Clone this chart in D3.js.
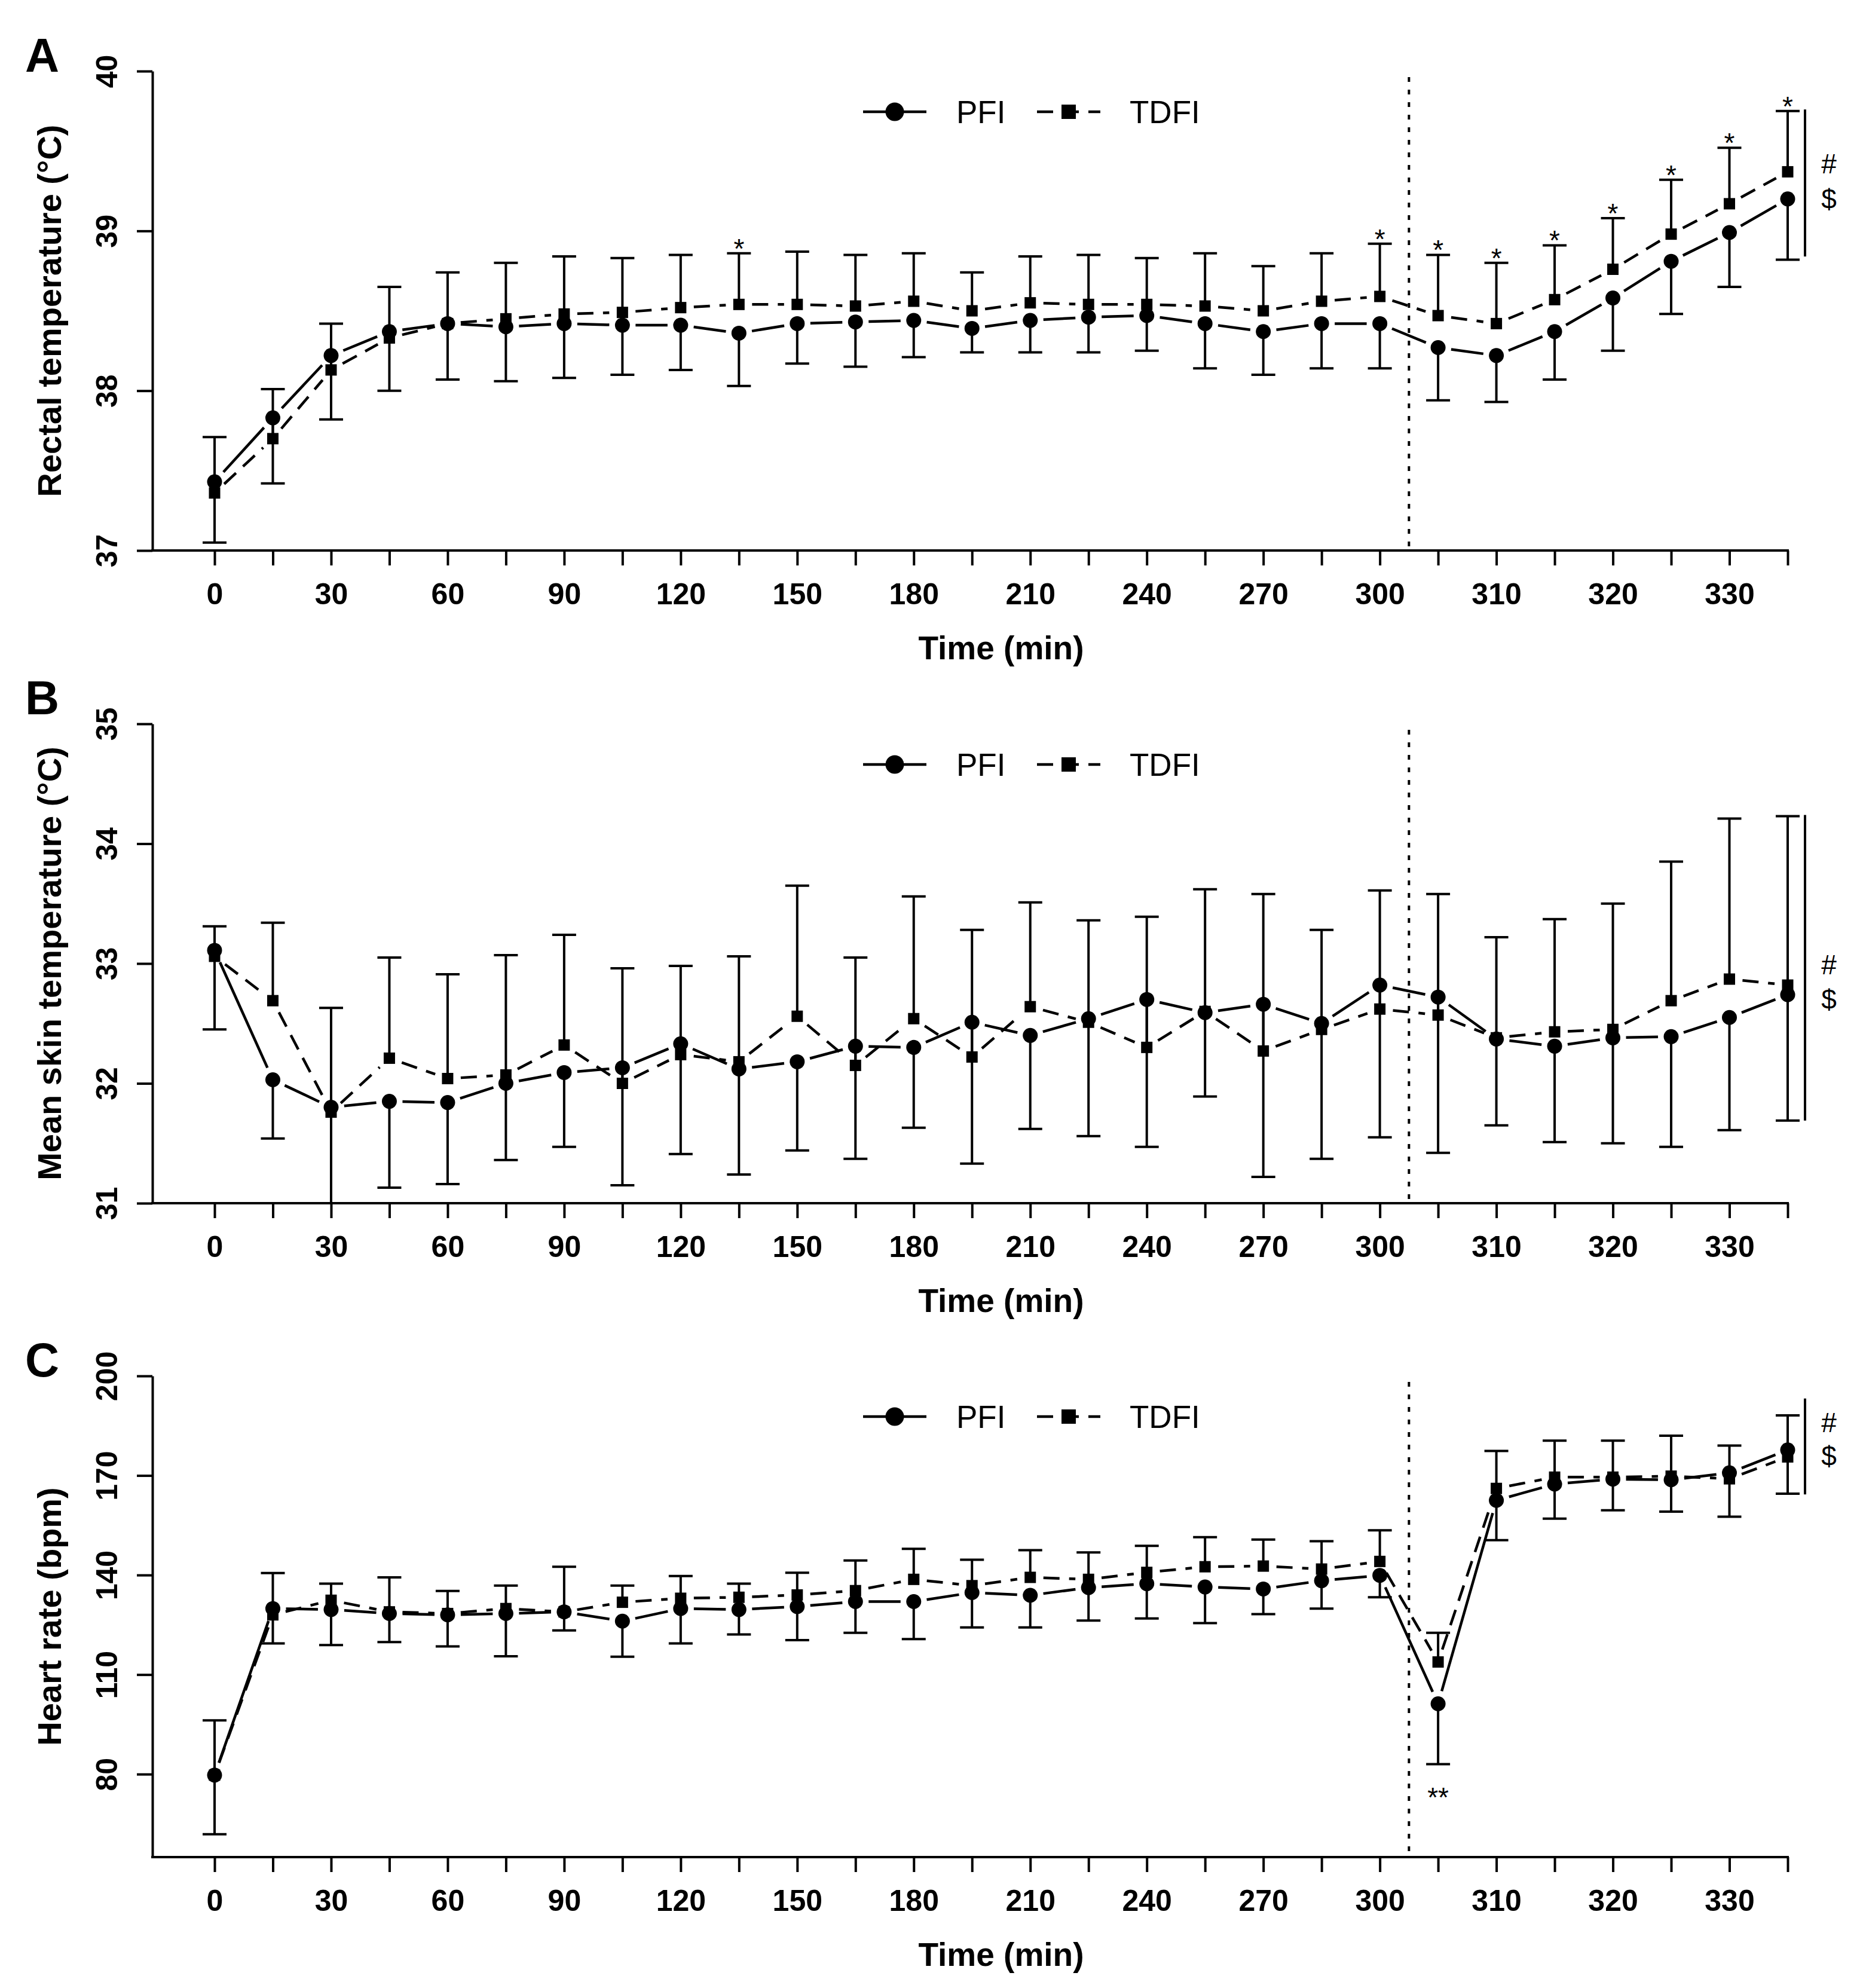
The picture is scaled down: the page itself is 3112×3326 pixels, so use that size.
<!DOCTYPE html>
<html>
<head>
<meta charset="utf-8">
<script src="https://cdn.jsdelivr.net/npm/d3@7"></script>
<style>
  body { margin: 0; background: #fff; }
  text { font-family: "Liberation Sans", Arial, Helvetica, sans-serif; fill: #000; }
</style>
</head>
<body>
<script>
//Width and height
var w = 3112;
var h = 3326;

//Time points (min) and the labels shown under the axis
var times = [0, 15, 30, 45, 60, 75, 90, 105, 120, 135, 150, 165, 180, 195, 210,
             225, 240, 255, 270, 285, 300, 305, 310, 315, 320, 325, 330, 335];
var labelTimes = [0, 30, 60, 90, 120, 150, 180, 210, 240, 270, 300, 310, 320, 330];

//Panel A - rectal temperature (°C)
var rectalPFI  = [37.43, 37.83, 38.22, 38.37, 38.42, 38.40, 38.42, 38.41, 38.41, 38.36, 38.42, 38.43, 38.44, 38.39,
                  38.44, 38.46, 38.47, 38.42, 38.37, 38.42, 38.42, 38.27, 38.22, 38.37, 38.58, 38.81, 38.99, 39.20];
var rectalTDFI = [37.36, 37.70, 38.13, 38.33, 38.42, 38.45, 38.48, 38.49, 38.52, 38.54, 38.54, 38.53, 38.56, 38.50,
                  38.55, 38.54, 38.54, 38.53, 38.50, 38.56, 38.59, 38.47, 38.42, 38.57, 38.76, 38.98, 39.17, 39.37];
//upper bar end (TDFI + SD) and lower bar end (PFI - SD)
var rectalUpper = [37.71, 38.01, 38.42, 38.65, 38.74, 38.80, 38.84, 38.83, 38.85, 38.86, 38.87, 38.85, 38.86, 38.74,
                   38.84, 38.85, 38.83, 38.86, 38.78, 38.86, 38.92, 38.85, 38.80, 38.91, 39.08, 39.32, 39.52, 39.75];
var rectalLower = [37.05, 37.42, 37.82, 38.00, 38.07, 38.06, 38.08, 38.10, 38.13, 38.03, 38.17, 38.15, 38.21, 38.24,
                   38.24, 38.24, 38.25, 38.14, 38.10, 38.14, 38.14, 37.94, 37.93, 38.07, 38.25, 38.48, 38.65, 38.82];
var rectalTicks = [37, 38, 39, 40];
var rectalStars = [135, 300, 305, 310, 315, 320, 325, 330, 335];
var rectalBracket = [38.84, 39.76];
var rectalMarks = [39.42, 39.20];

//Panel B - mean skin temperature (°C)
var skinPFI  = [33.11, 32.03, 31.80, 31.85, 31.84, 32.00, 32.09, 32.13, 32.33, 32.12, 32.18, 32.31, 32.30, 32.51,
                32.40, 32.54, 32.70, 32.59, 32.66, 32.50, 32.82, 32.72, 32.37, 32.31, 32.38, 32.39, 32.55, 32.74];
var skinTDFI = [33.06, 32.69, 31.76, 32.21, 32.04, 32.07, 32.32, 32.00, 32.24, 32.18, 32.56, 32.15, 32.54, 32.22,
                32.64, 32.51, 32.30, 32.60, 32.27, 32.45, 32.62, 32.57, 32.38, 32.43, 32.45, 32.69, 32.87, 32.82];
var skinUpper = [33.31, 33.34, 32.63, 33.05, 32.91, 33.07, 33.24, 32.96, 32.98, 33.06, 33.65, 33.05, 33.56, 33.28,
                 33.51, 33.36, 33.39, 33.62, 33.58, 33.28, 33.61, 33.58, 33.22, 33.37, 33.50, 33.85, 34.21, 34.23];
var skinLower = [32.45, 31.54, 30.85, 31.13, 31.16, 31.36, 31.47, 31.15, 31.41, 31.24, 31.44, 31.37, 31.63, 31.33,
                 31.62, 31.56, 31.47, 31.89, 31.22, 31.37, 31.55, 31.42, 31.65, 31.51, 31.50, 31.47, 31.61, 31.69];
var skinTicks = [31, 32, 33, 34, 35];
var skinBracket = [31.69, 34.24];
var skinMarks = [32.99, 32.70];

//Panel C - heart rate (bpm)
var hrPFI  = [79.7, 129.9, 129.6, 128.4, 128.0, 128.4, 128.9, 126.1, 129.9, 129.6, 130.5, 132.0, 132.0, 134.7,
              133.9, 136.2, 137.4, 136.4, 135.8, 138.3, 139.9, 101.2, 162.5, 167.4, 168.9, 168.7, 170.8, 177.7];
var hrTDFI = [79.7, 128.0, 132.4, 128.9, 128.4, 129.9, 128.9, 131.8, 133.0, 133.3, 134.0, 135.3, 138.7, 136.8,
              139.3, 138.7, 140.8, 142.5, 142.7, 141.8, 144.1, 113.8, 166.1, 169.5, 169.5, 169.8, 169.0, 175.6];
var hrUpper = [96.2, 140.6, 137.4, 139.3, 135.2, 136.8, 142.5, 136.8, 139.7, 137.4, 140.7, 144.4, 147.9, 144.6,
               147.5, 146.8, 148.8, 151.4, 150.7, 150.2, 153.5, 122.6, 177.4, 180.5, 180.5, 182.0, 179.0, 188.1];
var hrLower = [61.9, 119.4, 118.9, 119.8, 118.5, 115.5, 123.3, 115.4, 119.4, 122.1, 120.4, 122.6, 120.7, 124.2,
               124.2, 126.3, 126.9, 125.5, 128.2, 129.9, 133.3, 83.0, 150.5, 157.0, 159.5, 159.1, 157.6, 164.5];
var hrTicks = [80, 110, 140, 170, 200];
var hrStarsBelow = [305];
var hrBracket = [164.3, 193.2];
var hrMarks = [186.0, 175.8];

//Options for each panel, built from the arrays above
var panels = [
  { letter: "A", letterY: 120, top: 119, bottom: 921, domain: [37, 40], ticks: rectalTicks,
    title: "Rectal temperature (°C)", pfi: rectalPFI, tdfi: rectalTDFI, upper: rectalUpper, lower: rectalLower,
    starsAbove: rectalStars, starsBelow: [], bracket: rectalBracket, marks: rectalMarks },
  { letter: "B", letterY: 1195, top: 1211, bottom: 2013, domain: [31, 35], ticks: skinTicks,
    title: "Mean skin temperature (°C)", pfi: skinPFI, tdfi: skinTDFI, upper: skinUpper, lower: skinLower,
    starsAbove: [], starsBelow: [], bracket: skinBracket, marks: skinMarks },
  { letter: "C", letterY: 2303, top: 2302, bottom: 3107, domain: [55, 200], ticks: hrTicks,
    title: "Heart rate (bpm)", pfi: hrPFI, tdfi: hrTDFI, upper: hrUpper, lower: hrLower,
    starsAbove: [], starsBelow: hrStarsBelow, bracket: hrBracket, marks: hrMarks }
];

var yAxisX = 255;
var lw = 4.5;

//x scale shared by all panels (one slot per time point)
var x = d3.scalePoint().domain(times).range([359, 2991]);

//Create SVG element
var svg = d3.select("body")
            .append("svg")
            .attr("width", w)
            .attr("height", h);

svg.append("rect").attr("width", w).attr("height", h).attr("fill", "#fff");

panels.forEach(drawPanel);

//segments between points, shortened at both ends like R's type = "b"
function drawSegments(g, y, values, dash) {
  var gap = 22;
  for (var i = 0; i < values.length - 1; i++) {
    var x1 = x(times[i]), y1 = y(values[i]);
    var x2 = x(times[i + 1]), y2 = y(values[i + 1]);
    var len = Math.sqrt((x2 - x1) * (x2 - x1) + (y2 - y1) * (y2 - y1));
    if (len <= 2 * gap) continue;
    var ux = (x2 - x1) / len, uy = (y2 - y1) / len;
    g.append("line")
     .attr("x1", x1 + ux * gap).attr("y1", y1 + uy * gap)
     .attr("x2", x2 - ux * gap).attr("y2", y2 - uy * gap)
     .attr("stroke", "#000")
     .attr("stroke-width", lw)
     .attr("stroke-dasharray", dash);
  }
}

function drawPanel(p, pi) {
  var y = d3.scaleLinear().domain(p.domain).range([p.bottom, p.top]);
  var g = svg.append("g");

  //clip to plot area so bars below the axis are cut
  var clipId = "clip" + pi;
  svg.append("clipPath").attr("id", clipId)
     .append("rect").attr("x", yAxisX).attr("y", p.top - 200)
     .attr("width", w - yAxisX).attr("height", p.bottom - p.top + 200);

  //y axis
  var yAxis = d3.axisLeft(y).tickValues(p.ticks).tickFormat(d3.format("d"))
                .tickSize(26).tickSizeOuter(0).tickPadding(0);
  var ya = g.append("g").attr("transform", "translate(" + yAxisX + ",0)").call(yAxis);
  ya.select(".domain").attr("stroke-width", 4);
  ya.selectAll(".tick line").attr("stroke-width", 4);
  ya.selectAll(".tick text")
    .attr("x", null).attr("dy", null)
    .attr("transform", "translate(-59,0) rotate(-90)")
    .attr("text-anchor", "middle")
    .style("font-family", "'Liberation Sans', Arial, sans-serif")
    .style("font-size", "50px").style("font-weight", "bold");

  //x axis
  var xAxis = d3.axisBottom(x).tickSize(25).tickSizeOuter(0)
                .tickFormat(function(t) { return labelTimes.indexOf(t) >= 0 ? t : ""; });
  var xa = g.append("g").attr("transform", "translate(0," + p.bottom + ")").call(xAxis);
  xa.select(".domain").remove();
  xa.selectAll(".tick line").attr("stroke-width", 4);
  xa.selectAll(".tick text")
    .attr("y", 90).attr("dy", null)
    .style("font-family", "'Liberation Sans', Arial, sans-serif")
    .style("font-size", "50px").style("font-weight", "bold");
  g.append("line")
   .attr("x1", yAxisX - 2).attr("x2", x(times[times.length - 1]) + 2)
   .attr("y1", p.bottom).attr("y2", p.bottom)
   .attr("stroke", "#000").attr("stroke-width", 4);

  //axis titles
  g.append("text")
   .attr("x", (x.range()[0] + x.range()[1]) / 2).attr("y", p.bottom + 182)
   .attr("text-anchor", "middle")
   .style("font-size", "55px").style("font-weight", "bold")
   .text("Time (min)");
  g.append("text")
   .attr("transform", "translate(102," + ((p.top + p.bottom) / 2) + ") rotate(-90)")
   .attr("text-anchor", "middle")
   .style("font-size", "56px").style("font-weight", "bold")
   .text(p.title);

  //panel letter
  g.append("text")
   .attr("x", 42).attr("y", p.letterY)
   .style("font-size", "79px").style("font-weight", "bold")
   .text(p.letter);

  //dotted divider between 300 and 305
  var divX = (x(300) + x(305)) / 2;
  g.append("line")
   .attr("x1", divX).attr("x2", divX)
   .attr("y1", p.top + 10).attr("y2", p.bottom)
   .attr("stroke", "#000").attr("stroke-width", 4)
   .attr("stroke-dasharray", "8,13");

  var plot = g.append("g").attr("clip-path", "url(#" + clipId + ")");

  //lines
  drawSegments(plot, y, p.pfi, null);
  drawSegments(plot, y, p.tdfi, "27,16");

  //error bars: TDFI upward, PFI downward
  var capW = 20;
  times.forEach(function(t, i) {
    var xi = x(t);
    plot.append("line").attr("x1", xi).attr("x2", xi)
        .attr("y1", y(p.tdfi[i])).attr("y2", y(p.upper[i]))
        .attr("stroke", "#000").attr("stroke-width", 4);
    plot.append("line").attr("x1", xi - capW).attr("x2", xi + capW)
        .attr("y1", y(p.upper[i])).attr("y2", y(p.upper[i]))
        .attr("stroke", "#000").attr("stroke-width", 4);
    plot.append("line").attr("x1", xi).attr("x2", xi)
        .attr("y1", y(p.pfi[i])).attr("y2", y(p.lower[i]))
        .attr("stroke", "#000").attr("stroke-width", 4);
    if (p.lower[i] >= p.domain[0]) {
      plot.append("line").attr("x1", xi - capW).attr("x2", xi + capW)
          .attr("y1", y(p.lower[i])).attr("y2", y(p.lower[i]))
          .attr("stroke", "#000").attr("stroke-width", 4);
    }
  });

  //markers
  plot.selectAll(".sq")
      .data(times)
      .enter()
      .append("rect")
      .attr("x", function(t) { return x(t) - 9.5; })
      .attr("y", function(t, i) { return y(p.tdfi[i]) - 9.5; })
      .attr("width", 19).attr("height", 19)
      .attr("fill", "#000");
  plot.selectAll(".pt")
      .data(times)
      .enter()
      .append("circle")
      .attr("cx", function(t) { return x(t); })
      .attr("cy", function(t, i) { return y(p.pfi[i]); })
      .attr("r", 12.5)
      .attr("fill", "#000");

  //significance stars
  p.starsAbove.forEach(function(t) {
    var i = times.indexOf(t);
    g.append("text").attr("x", x(t)).attr("y", y(p.upper[i]) + 8)
     .attr("text-anchor", "middle").style("font-size", "46px").text("*");
  });
  p.starsBelow.forEach(function(t) {
    var i = times.indexOf(t);
    g.append("text").attr("x", x(t)).attr("y", y(p.lower[i]) + 71)
     .attr("text-anchor", "middle").style("font-size", "46px").text("**");
  });

  //bracket with # and $
  g.append("line")
   .attr("x1", 3020).attr("x2", 3020)
   .attr("y1", y(p.bracket[0])).attr("y2", y(p.bracket[1]))
   .attr("stroke", "#000").attr("stroke-width", 4);
  g.append("text").attr("x", 3060).attr("y", y(p.marks[0]) + 16)
   .attr("text-anchor", "middle").style("font-size", "46px").text("#");
  g.append("text").attr("x", 3060).attr("y", y(p.marks[1]) + 16)
   .attr("text-anchor", "middle").style("font-size", "46px").text("$");

  //legend
  var ly = p.top + 68;
  g.append("line").attr("x1", 1444).attr("x2", 1550).attr("y1", ly).attr("y2", ly)
   .attr("stroke", "#000").attr("stroke-width", lw);
  g.append("circle").attr("cx", 1497).attr("cy", ly).attr("r", 15.5).attr("fill", "#000");
  g.append("text").attr("x", 1600).attr("y", ly + 19).style("font-size", "53px").text("PFI");
  g.append("line").attr("x1", 1735).attr("x2", 1841).attr("y1", ly).attr("y2", ly)
   .attr("stroke", "#000").attr("stroke-width", lw).attr("stroke-dasharray", "27,16");
  g.append("rect").attr("x", 1776).attr("y", ly - 12).attr("width", 24).attr("height", 24).attr("fill", "#000");
  g.append("text").attr("x", 1890).attr("y", ly + 19).style("font-size", "53px").text("TDFI");
}
</script>
</body>
</html>
